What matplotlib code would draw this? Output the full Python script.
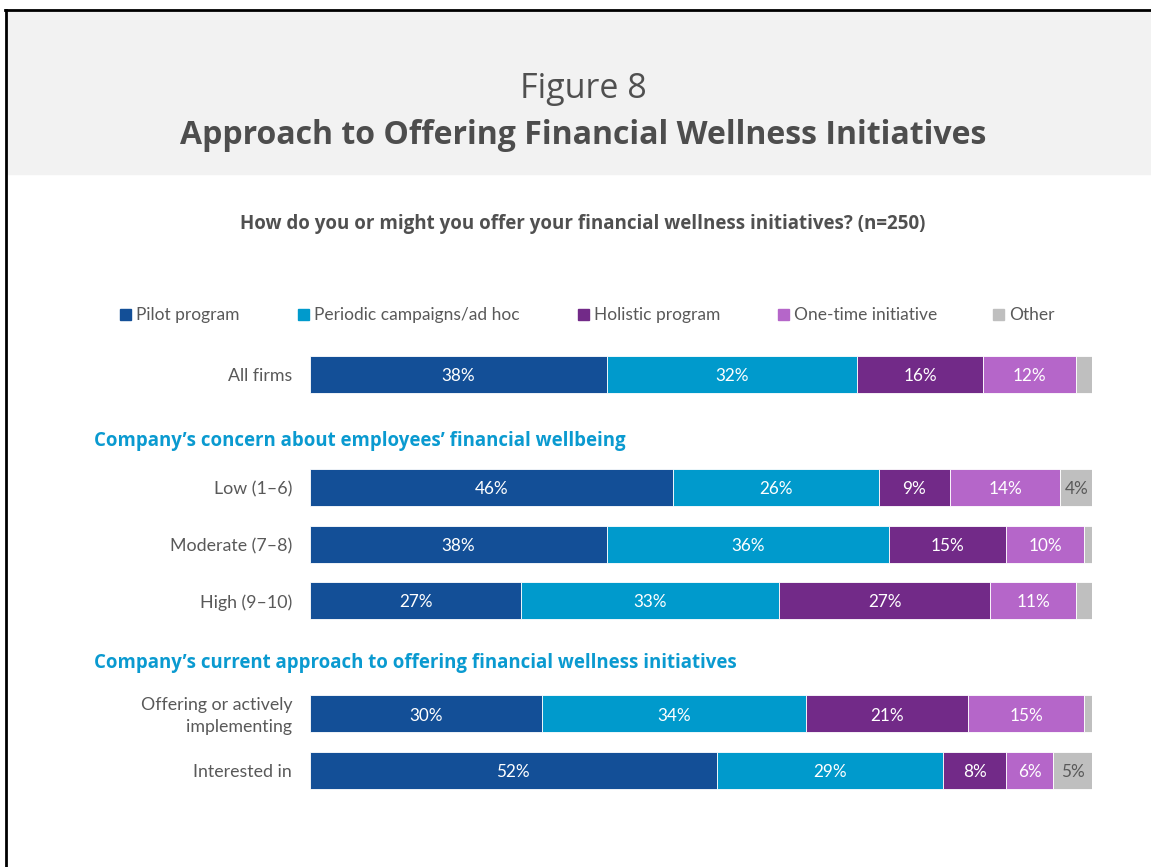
import matplotlib
matplotlib.use("Agg")
import matplotlib.pyplot as plt
from matplotlib.patches import Rectangle
import numpy as np

# data
rows = ["All firms", "Low (1\u20136)", "Moderate (7\u20138)", "High (9\u201310)",
        "Offering or actively\nimplementing", "Interested in"]
row_pos = [0, 2, 3, 4, 6, 7]
series = ["Pilot program", "Periodic campaigns/ad hoc", "Holistic program",
          "One-time initiative", "Other"]
pilot = [38, 46, 38, 27, 30, 52]
periodic = [32, 26, 36, 33, 34, 29]
holistic = [16, 9, 15, 27, 21, 8]
onetime = [12, 14, 10, 11, 15, 6]
other = [2, 4, 1, 2, 1, 5]
other_shown = [False, True, False, False, False, True]

colors = ["#134F97", "#009ACC", "#722A88", "#B566C9", "#BFBFBF"]
W, H = 1151, 867

fig = plt.figure(figsize=(W / 100, H / 100), dpi=100)
font = "Lato"

def fx(px):
    return px / W

def fy(py):
    return 1 - py / H

# header band + frame
fig.patches.append(Rectangle((fx(7), fy(174)), fx(W - 7), (174 - 10) / H,
                             transform=fig.transFigure, color="#F2F2F2", zorder=0))
fig.add_artist(plt.Line2D([fx(5.5), fx(5.5)], [0, fy(9.5)], transform=fig.transFigure,
                          color="black", lw=2))
fig.add_artist(plt.Line2D([fx(5), 1], [fy(9.5), fy(9.5)], transform=fig.transFigure,
                          color="black", lw=2))

fig.text(fx(583), fy(89), "Figure 8", ha="center", va="center", fontsize=24.5,
         color="#505050", family="Open Sans")
fig.text(fx(583), fy(135), "Approach to Offering Financial Wellness Initiatives",
         ha="center", va="center", fontsize=23, color="#4D4D4D",
         family="Open Sans", fontweight="bold")
fig.text(fx(583), fy(224), "How do you or might you offer your financial wellness initiatives? (n=250)",
         ha="center", va="center", fontsize=13.5, color="#505050",
         family="Open Sans", fontweight="bold")

# legend drawn by hand
leg_x = [120, 298, 578, 778, 993]
for x, name, c in zip(leg_x, series, colors):
    fig.patches.append(Rectangle((fx(x), fy(320)), 11 / W, 11 / H,
                                 transform=fig.transFigure, color=c))
    fig.text(fx(x + 16), fy(315), name, ha="left", va="center", fontsize=12.5,
             color="#595959", family=font)

# bars
ax = fig.add_axes([fx(310), fy(798.8), fx(782), (798.8 - 346.2) / H])
data = np.array([pilot, periodic, holistic, onetime, other], dtype=float)
totals = data.sum(axis=0)
widths = data / totals * 100
left = np.zeros(len(rows))
for i, (vals, c) in enumerate(zip(widths, colors)):
    ax.barh(row_pos, vals, left=left, height=0.655, color=c,
            edgecolor="white", linewidth=0.6)
    for j, (v, y) in enumerate(zip(vals, row_pos)):
        if i == 4 and not other_shown[j]:
            continue
        tc = "#595959" if i == 4 else "white"
        ax.text(left[j] + v / 2, y + 0.03, f"{int(data[i, j])}%", ha="center", va="center",
                fontsize=12.3, color=tc, family=font)
    left += vals

ax.set_xlim(0, 100)
ax.set_ylim(7.5, -0.5)
ax.axis("off")

for r, y in zip(rows, row_pos):
    ax.text(-2.3, y + 0.03, r, ha="right", va="center", fontsize=12.8, color="#595959",
            family=font, linespacing=1.45)

ax.text(-27.6, 1.17, "Company\u2019s concern about employees\u2019 financial wellbeing",
        ha="left", va="center", fontsize=13.4, color="#0A9AD0", family="Open Sans",
        fontweight="bold")
ax.text(-27.6, 5.1, "Company\u2019s current approach to offering financial wellness initiatives",
        ha="left", va="center", fontsize=13.4, color="#0A9AD0", family="Open Sans",
        fontweight="bold")

fig.savefig("out.png", dpi=100, facecolor="white")
